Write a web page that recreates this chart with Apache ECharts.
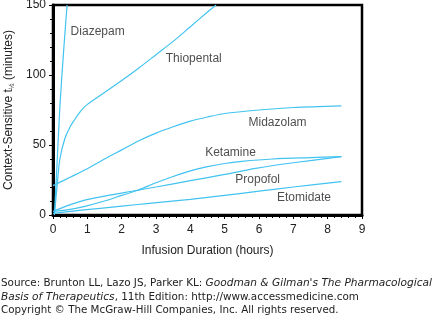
<!DOCTYPE html>
<html><head><meta charset="utf-8">
<script src="https://cdn.jsdelivr.net/npm/echarts@6/dist/echarts.min.js"></script>
<style>html,body{margin:0;padding:0;background:#fff}#c{width:439px;height:323px}</style>
</head><body><div id="c"></div>
<script>
// Data (hours, minutes)
const diazepam   = [[0.04,0],[0.1,28],[0.2,77],[0.3,114],[0.41,150]];
const thiopental = [[0.05,2],[0.12,21],[0.2,40],[0.35,55],[0.5,63],[0.6,67],[0.8,74],[1,79],[1.5,87.5],[2,96],[2.5,105],[3,114.5],[3.5,124],[4,134.5],[4.5,145],[4.75,150]];
const midazolam  = [[0,21],[0.5,27],[1,33],[1.5,40],[2,46.5],[2.5,53],[3,58.5],[3.5,63],[4,67],[4.5,70],[5,72.5],[6,75],[7,76.8],[8.4,78]];
const ketamine   = [[0,2.5],[0.5,4],[0.9,6],[1.5,10],[2,14],[2.45,17.5],[3,23],[3.5,27.5],[4,31.5],[4.5,34.5],[5,36.8],[5.5,38.3],[6.4,40],[7.5,41],[8.4,41.7]];
const propofol   = [[0,2.5],[0.4,6.5],[0.9,10.5],[1.5,13.5],[2.25,16.8],[3,20],[4,24.5],[5,29],[5.9,33.3],[7,37.3],[8.4,41.7]];
const etomidate  = [[0,1.2],[0.9,3.6],[2,6.3],[2.8,8.3],[4,11.2],[5,14],[6,17],[7,20],[8.4,23.8]];
const labels = [
  ['Diazepam',1.30,130.7],['Thiopental',4.10,111.4],['Midazolam',6.54,65.7],
  ['Ketamine',5.17,44.3],['Propofol',5.96,25],['Etomidate',7.31,12.1]
];
const xTicks = {min:0, max:9, interval:1};
const yTicks = {min:0, max:150, interval:50};

const lineColor = '#42c3f0';
const chart = echarts.init(document.getElementById('c'), null, {renderer:'canvas'});
const mk = (name, data) => ({
  name, type:'line', data, smooth:0.3, showSymbol:false, symbol:'none', clip:true,
  lineStyle:{color:lineColor, width:1.2}, silent:true
});
const font = 'Liberation Sans, Arial, sans-serif';
chart.setOption({
  animation:false,
  grid:{left:53, right:77, top:5, bottom:108, outerBoundsMode:'none', containLabel:false, show:true, borderColor:'#000', borderWidth:2.5, backgroundColor:'#fff'},
  xAxis:{type:'value', min:xTicks.min, max:xTicks.max, interval:xTicks.interval,
    name:'Infusion Duration (hours)', nameLocation:'middle', nameGap:30,
    nameTextStyle:{fontFamily:font, fontSize:12, color:'#222'},
    axisLine:{show:true, lineStyle:{color:'#000', width:3}},
    axisTick:{show:true, length:4, lineStyle:{color:'#000'}},
    minorTick:{show:true, splitNumber:5, length:3, lineStyle:{color:'#000'}},
    splitLine:{show:false},
    axisLabel:{fontFamily:font, fontSize:12, color:'#222', margin:9}},
  yAxis:{type:'value', min:yTicks.min, max:yTicks.max, interval:yTicks.interval,
    name:'Context-Sensitive t{s|½} (minutes)', nameLocation:'middle', nameGap:34, nameRotate:90,
    nameTextStyle:{fontFamily:font, fontSize:12, color:'#222', rich:{s:{fontFamily:font, fontSize:7, color:'#222', padding:[6,0,0,0]}}},
    axisLine:{show:true, lineStyle:{color:'#000', width:3}},
    axisTick:{show:true, length:4, lineStyle:{color:'#000'}},
    minorTick:{show:true, splitNumber:5, length:3, lineStyle:{color:'#000'}},
    splitLine:{show:false},
    axisLabel:{fontFamily:font, fontSize:12, color:'#222', margin:7}},
  series:[
    mk('Diazepam', diazepam), mk('Thiopental', thiopental), mk('Midazolam', midazolam),
    mk('Ketamine', ketamine), mk('Propofol', propofol), mk('Etomidate', etomidate),
    {type:'scatter', symbolSize:0, silent:true,
     data: labels.map(l=>({name:l[0], value:[l[1], l[2]]})),
     label:{show:true, position:'inside', formatter:p=>p.name, fontFamily:font, fontSize:12, color:'#222'}}
  ],
  graphic:[
    {type:'text', left:1, top:276, style:{
      text:'Source: Brunton LL, Lazo JS, Parker KL: {i|Goodman & Gilman\'s The Pharmacological}\n{i|Basis of Therapeutics}, 11th Edition: http://www.accessmedicine.com',
      font:'10.4px DejaVu Sans', fill:'#222', lineHeight:14,
      rich:{i:{fontStyle:'italic', fontFamily:'DejaVu Sans', fontSize:10.6, fill:'#222', lineHeight:14}}}},
    {type:'text', left:1, top:305, style:{text:'Copyright © The McGraw-Hill Companies, Inc. All rights reserved.', font:'10.3px DejaVu Sans', fill:'#222'}}
  ]
});
</script></body></html>
